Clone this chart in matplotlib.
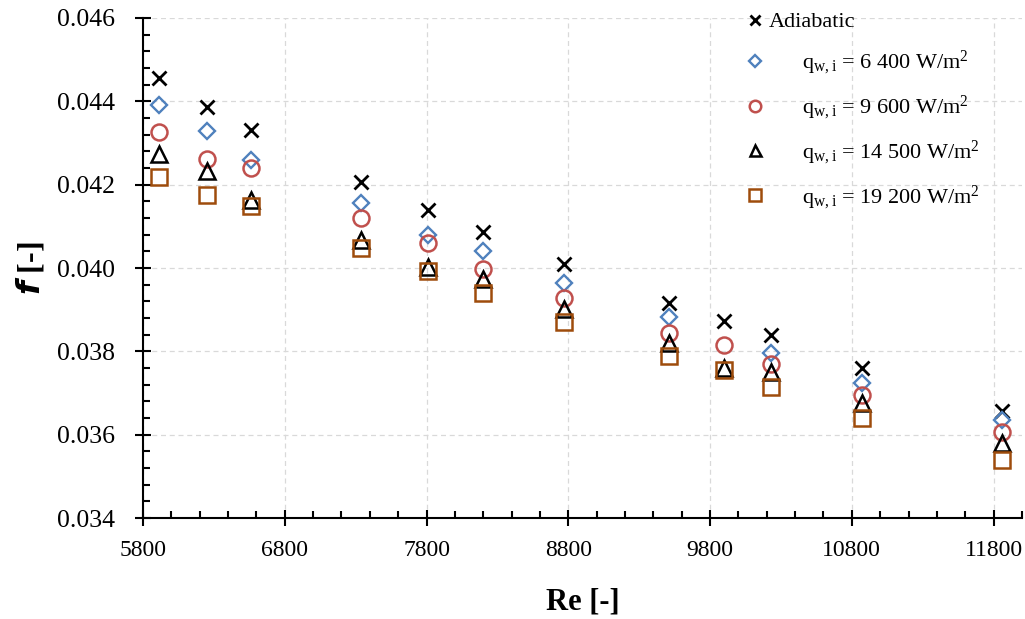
import matplotlib.pyplot as plt
import numpy as np
from matplotlib.ticker import MultipleLocator, FixedLocator

plt.rcParams['font.family'] = ['Liberation Serif', 'DejaVu Serif']
plt.rcParams['mathtext.fontset'] = 'custom'
plt.rcParams['mathtext.rm'] = 'Liberation Serif'
plt.rcParams['mathtext.it'] = 'Liberation Serif:italic'
plt.rcParams['mathtext.bf'] = 'Liberation Serif:bold'

# Reynolds numbers of the test points
re_vals = [5910, 6250, 6560, 7340, 7810, 8200, 8770, 9510, 9900, 10230, 10870, 11860]

# friction factor for each heating case
f_adiabatic = [0.04455, 0.04387, 0.04331, 0.04207, 0.04139, 0.04087, 0.04010,
               0.03917, 0.03874, 0.03839, 0.03759, 0.03658]
f_q6400 = [0.04391, 0.04329, 0.04259, 0.04157, 0.04079, 0.04042, 0.03965,
           0.03882, np.nan, 0.03797, 0.03725, 0.03635]
f_q9600 = [0.04327, 0.04262, 0.04239, 0.04119, 0.04061, 0.03997, 0.03927,
           0.03843, 0.03815, 0.03770, 0.03695, 0.03607]
f_q14500 = [0.04274, 0.04233, 0.04163, 0.04067, 0.04002, 0.03973, 0.03901,
            0.03819, 0.03760, 0.03751, 0.03675, 0.03579]
f_q19200 = [0.04218, 0.04175, 0.04150, 0.04047, 0.03994, 0.03939, 0.03871,
            0.03789, 0.03755, 0.03714, 0.03639, 0.03540]

labels = ['Adiabatic',
          r'      q$_{\mathrm{w,i}}$ = 6 400 W/m$^2$',
          r'      q$_{\mathrm{w,i}}$ = 9 600 W/m$^2$',
          r'      q$_{\mathrm{w,i}}$ = 14 500 W/m$^2$',
          r'      q$_{\mathrm{w,i}}$ = 19 200 W/m$^2$']

fig = plt.figure(figsize=(10.25, 6.19), dpi=100)
ax = fig.add_axes([0.1395, 0.163, 0.8575, 0.808])

ax.plot(re_vals, f_adiabatic, ls='none', marker='x', ms=10.5, mew=2,
        color='black', label=labels[0], zorder=3)
ax.plot(re_vals, f_q6400, ls='none', marker='D', ms=8.5, mew=1.7,
        mfc='none', mec='#4F81BD', label=labels[1], zorder=3)
ax.plot(re_vals, f_q9600, ls='none', marker='o', ms=11.5, mew=1.8,
        mfc='none', mec='#C0504D', label=labels[2], zorder=3)
ax.plot(re_vals, f_q14500, ls='none', marker='^', ms=11, mew=1.8,
        mfc='none', mec='black', label=labels[3], zorder=3)
ax.plot(re_vals, f_q19200, ls='none', marker='s', ms=12, mew=1.8,
        mfc='none', mec='#9E4C0C', label=labels[4], zorder=3)

ax.set_xlim(5800, 12000)
ax.set_ylim(0.034, 0.046)
ax.xaxis.set_major_locator(FixedLocator(np.arange(5800, 12000, 1000)))
ax.xaxis.set_minor_locator(MultipleLocator(200))
ax.yaxis.set_major_locator(MultipleLocator(0.002))
ax.yaxis.set_minor_locator(MultipleLocator(0.0004))
ax.yaxis.set_major_formatter(plt.FormatStrFormatter('%.3f'))

ax.grid(True, which='major', ls=(0, (4, 3)), color='#D9D9D9', lw=0.9)
ax.set_axisbelow(True)

for side in ['top', 'right']:
    ax.spines[side].set_visible(False)
for side in ['left', 'bottom']:
    ax.spines[side].set_linewidth(1.5)

ax.tick_params(which='major', direction='inout', length=12, width=1.5)
ax.tick_params(which='minor', direction='in', length=5, width=1.5)
ax.tick_params(axis='x', which='major', labelsize=17, pad=10)
ax.tick_params(axis='y', which='major', labelsize=18.5, pad=14)

ax.set_xlabel('Re [-]', fontsize=22, fontweight='bold', labelpad=19)
ax.set_ylabel(r'$\mathbfit{f}$ [-]', fontsize=23, fontweight='bold', labelpad=8)

leg = ax.legend(loc='upper right', frameon=False, fontsize=16,
                labelspacing=0.75, handletextpad=-0.4, markerscale=0.72,
                borderaxespad=0.0, bbox_to_anchor=(0.962, 1.03))

fig.savefig('out.png', dpi=100)
